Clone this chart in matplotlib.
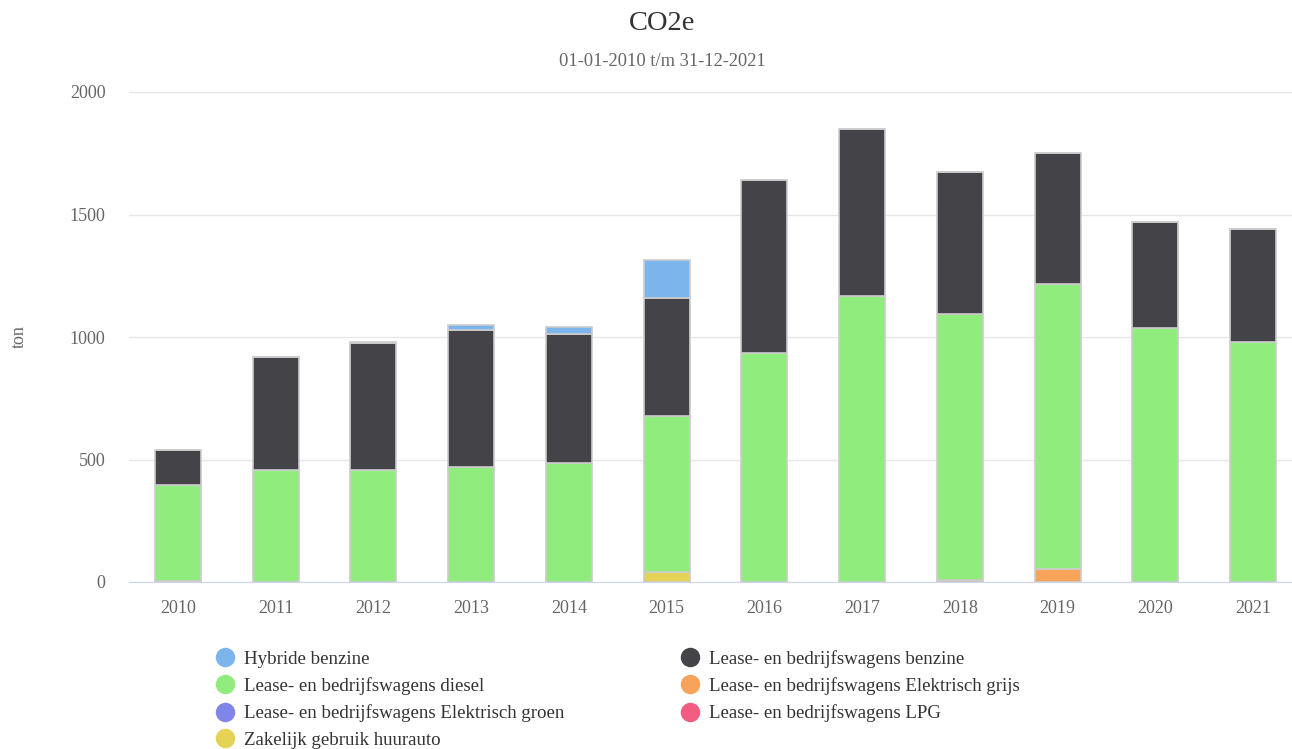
import matplotlib
matplotlib.use("Agg")
import matplotlib.pyplot as plt
from matplotlib.lines import Line2D
import numpy as np

plt.rcParams['font.family'] = ['Liberation Serif', 'DejaVu Serif']

years = ['2010', '2011', '2012', '2013', '2014', '2015', '2016', '2017', '2018', '2019', '2020', '2021']

series_names = [
    'Hybride benzine',
    'Lease- en bedrijfswagens benzine',
    'Lease- en bedrijfswagens diesel',
    'Lease- en bedrijfswagens Elektrisch grijs',
    'Lease- en bedrijfswagens Elektrisch groen',
    'Lease- en bedrijfswagens LPG',
    'Zakelijk gebruik huurauto',
]
series_colors = ['#7cb5ec', '#434348', '#90ed7d', '#f7a35c', '#8085e9', '#f15c80', '#e4d354']

hybride_benzine = [0, 0, 5, 20, 30, 155, 0, 0, 0, 0, 0, 0]
lease_benzine = [143, 461, 518, 560, 526, 481, 706, 682, 579, 535, 432, 461]
lease_diesel = [390, 457, 457, 469, 486, 637, 935, 1167, 1086, 1163, 1037, 980]
elektrisch_grijs = [0, 0, 0, 0, 0, 0, 0, 0, 8, 53, 0, 0]
elektrisch_groen = [0, 0, 0, 0, 0, 0, 0, 0, 0, 0, 0, 0]
lpg = [0, 0, 0, 0, 0, 0, 0, 0, 0, 0, 0, 0]
huurauto = [6, 0, 0, 0, 0, 41, 0, 0, 0, 0, 0, 0]

series_values = [hybride_benzine, lease_benzine, lease_diesel, elektrisch_grijs,
                 elektrisch_groen, lpg, huurauto]

fig = plt.figure(figsize=(12.92, 7.49), dpi=100)
W, H = 1292, 749
ax = fig.add_axes([129 / W, (H - 582) / H, (1302 - 129) / W, 490 / H])

x = np.arange(len(years))
# stacking order: last series sits at the bottom
bottom = np.zeros(len(years))
for name, vals, col in reversed(list(zip(series_names, series_values, series_colors))):
    v = np.array(vals, dtype=float)
    ax.bar(x, v, bottom=bottom, width=0.47, color=col, edgecolor='#cccccc',
           linewidth=1.2, zorder=3)
    bottom += v

ax.set_xlim(-0.5, len(years) - 0.5)
ax.set_ylim(0, 2000)
ax.set_yticks([0, 500, 1000, 1500, 2000])
ax.set_xticks(x)
ax.set_xticklabels(years)
ax.yaxis.grid(True, color='#e6e6e6', linewidth=1, zorder=0)
ax.set_axisbelow(True)
for side in ['top', 'right', 'left']:
    ax.spines[side].set_visible(False)
ax.spines['bottom'].set_color('#ccd6eb')
ax.spines['bottom'].set_zorder(4)
ax.tick_params(axis='both', length=0, labelsize=13, labelcolor='#666666')
ax.tick_params(axis='x', pad=13)
ax.tick_params(axis='y', pad=17)
ax.set_ylabel('ton', fontsize=13, color='#666666')
ax.yaxis.set_label_coords((28 - 129) / 1173, 0.5)

fig.text(662 / W, 1 - 23 / H, 'CO2e', ha='center', va='center', fontsize=20.5, color='#333333')
fig.text(662 / W, 1 - 61 / H, '01-01-2010 t/m 31-12-2021', ha='center', va='center',
         fontsize=13.3, color='#666666')

handles = [Line2D([], [], linestyle='none', marker='o', markersize=13,
                  markerfacecolor=c, markeredgecolor=c) for c in series_colors]
order = [0, 2, 4, 6, 1, 3, 5]
leg = fig.legend([handles[i] for i in order], [series_names[i] for i in order],
                 ncol=2, loc='upper left', bbox_to_anchor=(215 / W, 1 - 650 / H),
                 frameon=False, fontsize=13.6, labelcolor='#333333',
                 handletextpad=0.45, columnspacing=6.09, labelspacing=0.49,
                 handlelength=1.1, borderaxespad=0, borderpad=0)

fig.savefig('out.png', dpi=100)
